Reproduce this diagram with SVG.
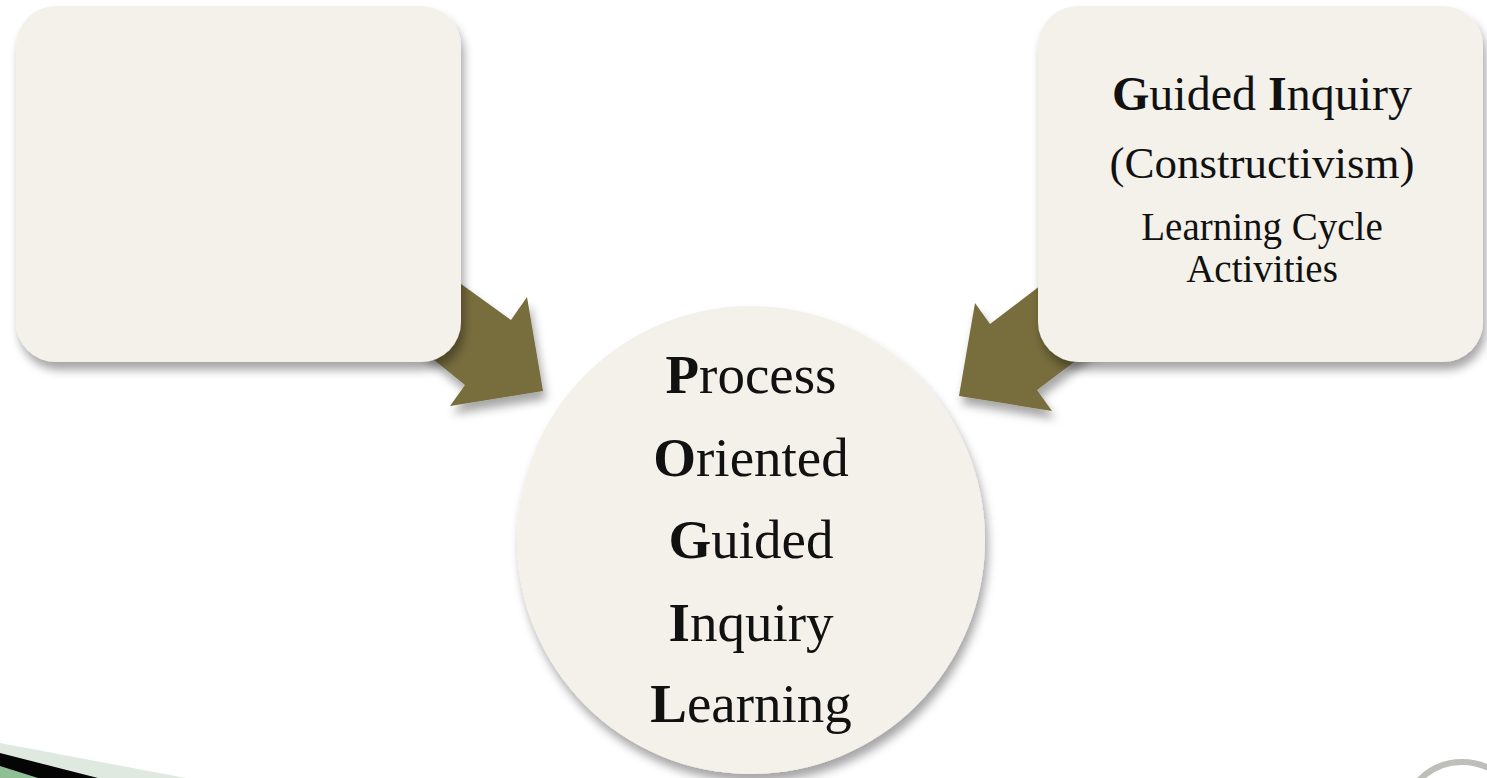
<svg xmlns="http://www.w3.org/2000/svg" width="1487" height="778" viewBox="0 0 1487 778">
  <defs>
    <filter id="shadow" x="-20%" y="-20%" width="140%" height="140%">
      <feDropShadow dx="3" dy="8" stdDeviation="5" flood-color="#000000" flood-opacity="0.35"/>
    </filter>
    <style>
      .card { fill: #F3F1EA; filter: url(#shadow); }
      .arrow { fill: #776D3C; filter: url(#shadow); }
      .label { font-family: "Liberation Serif", "Times New Roman", serif; fill: #111111; text-anchor: middle; }
      .cap { font-weight: bold; }
    </style>
  </defs>

  <rect width="1487" height="778" fill="#FFFFFF"/>

  <!-- corner ornaments -->
  <g id="ornament-left">
    <polygon points="0,743 186,778 0,778" fill="#DFE9E0"/>
    <polygon points="0,753 98,778 0,778" fill="#050505"/>
    <polygon points="0,766 38,778 0,778" fill="#8FBF94"/>
  </g>
  <g id="ornament-right">
    <circle cx="1462" cy="822" r="60" fill="none" stroke="#BEBFB9" stroke-width="6"/>
  </g>

  <!-- connectors (block arrows) -->
  <g id="connectors">
    <polygon class="arrow" points="400,240 511,320 527,297 543,391 450,406 465,385 360,300"/>
    <polygon class="arrow" points="1100,240 990,324 975,303 959,396 1052,411 1037,390 1130,320"/>
  </g>

  <g id="node-left">
    <rect class="card" x="16" y="6" width="445" height="356" rx="40" ry="40"/>
  </g>

  <g id="node-right">
    <rect class="card" x="1038" y="6" width="445" height="356" rx="40" ry="40"/>
    <text class="label" x="1262" y="110" font-size="48"><tspan class="cap">G</tspan>uided <tspan class="cap">I</tspan>nquiry</text>
    <text class="label" x="1262" y="178" font-size="45">(Constructivism)</text>
    <text class="label" x="1262" y="240" font-size="39">Learning Cycle</text>
    <text class="label" x="1262" y="282" font-size="39">Activities</text>
  </g>

  <g id="node-center">
    <circle class="card" cx="751" cy="540" r="234"/>
    <text class="label" x="751" y="393" font-size="55"><tspan class="cap">P</tspan>rocess</text>
    <text class="label" x="751" y="476" font-size="55"><tspan class="cap">O</tspan>riented</text>
    <text class="label" x="751" y="558" font-size="55"><tspan class="cap">G</tspan>uided</text>
    <text class="label" x="751" y="641" font-size="55"><tspan class="cap">I</tspan>nquiry</text>
    <text class="label" x="751" y="722" font-size="55"><tspan class="cap">L</tspan>earning</text>
  </g>
</svg>
